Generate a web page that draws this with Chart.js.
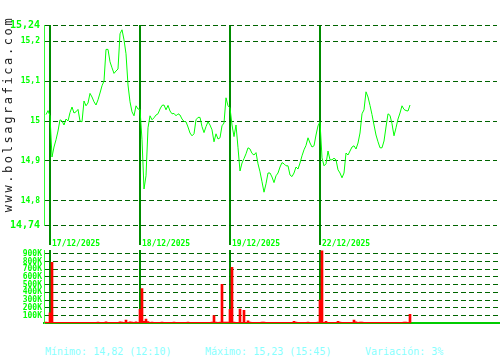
<!DOCTYPE html>
<html>
<head>
<meta charset="utf-8">
<script src="https://cdn.jsdelivr.net/npm/chart.js@4.4.1/dist/chart.umd.min.js"></script>
<style>
  body { margin: 0; background: #fff; }
  #wrap { position: relative; width: 500px; height: 360px; overflow: hidden; }
  canvas { position: absolute; left: 0; }
  #cPrice { top: 0; }
  #cVol { top: 240px; }
  #marca {
    position: absolute; left: -92px; top: 107px; width: 200px; height: 14px;
    line-height: 14px; text-align: center; transform: rotate(-90deg);
    font: 12px 'DejaVu Sans Mono', monospace; letter-spacing: 2.6px;
    color: #222; white-space: nowrap;
  }
  .stat {
    position: absolute; top: 346px; line-height: 14px;
    font: 10px 'DejaVu Sans Mono', monospace; color: #8ff; white-space: nowrap;
  }
</style>
</head>
<body>
<div id="wrap">
  <canvas id="cPrice" width="500" height="250"></canvas>
  <canvas id="cVol" width="500" height="90"></canvas>
  <div id="marca">www.bolsagrafica.com</div>
  <div class="stat" id="s0" style="left:45px"></div>
  <div class="stat" id="s1" style="left:205px"></div>
  <div class="stat" id="s2" style="left:365px"></div>
</div>
<script>
// --- DATI ---
// prezzo, un campione ogni ~10 minuti (4 sessioni)
const PRICE = [
  15.016, 15.026, 15.013, 14.91, 14.935, 14.953, 14.975, 15.003, 15.0, 14.99,
  15.005, 15.0, 15.021, 15.035, 15.02, 15.023, 15.029, 15.0, 14.998, 15.05,
  15.038, 15.045, 15.069, 15.06, 15.048, 15.04, 15.053, 15.07, 15.088, 15.1,
  15.179, 15.179, 15.148, 15.133, 15.119, 15.125, 15.13, 15.218, 15.228, 15.203,
  15.168, 15.09, 15.048, 15.023, 15.013, 15.038, 15.03, 15.029, 14.953, 14.83,
  14.863, 14.983, 15.013, 15.003, 15.008, 15.015, 15.018, 15.03, 15.039, 15.04,
  15.028, 15.039, 15.025, 15.018, 15.019, 15.013, 15.018, 15.015, 15.005, 14.999,
  14.998, 14.985, 14.97, 14.963, 14.968, 15.003, 15.009, 15.009, 14.986, 14.971,
  14.986, 14.998, 14.99, 14.978, 14.948, 14.968, 14.955, 14.958, 14.988, 14.995,
  15.058, 15.038, 15.033, 14.99, 14.961, 14.99, 14.933, 14.875, 14.895, 14.906,
  14.918, 14.933, 14.93, 14.919, 14.915, 14.921, 14.893, 14.873, 14.848, 14.822,
  14.843, 14.87, 14.87, 14.86, 14.846, 14.863, 14.87, 14.885, 14.896, 14.893,
  14.888, 14.888, 14.865, 14.861, 14.87, 14.885, 14.88, 14.895, 14.913, 14.928,
  14.939, 14.958, 14.945, 14.935, 14.938, 14.965, 14.988, 14.998, 14.908, 14.888,
  14.893, 14.925, 14.903, 14.903, 14.907, 14.903, 14.878, 14.87, 14.858, 14.87,
  14.92, 14.915, 14.925, 14.935, 14.938, 14.93, 14.945, 14.97, 15.018, 15.028,
  15.073, 15.06, 15.039, 15.016, 14.99, 14.965, 14.948, 14.933, 14.933, 14.95,
  14.985, 15.018, 15.014, 14.993, 14.963, 14.983, 15.005, 15.02, 15.038, 15.029,
  15.026, 15.025, 15.04,
];

// volume in migliaia, stessi campioni del prezzo
const VOLUME = [
  15, 12, 133, 790, 12, 12, 12, 12, 12, 12,
  12, 12, 12, 12, 12, 12, 12, 12, 12, 12,
  12, 12, 12, 12, 12, 12, 15, 12, 12, 12,
  18, 12, 12, 12, 12, 12, 12, 18, 15, 12,
  40, 12, 18, 15, 12, 18, 12, 180, 450, 25,
  55, 20, 12, 15, 12, 12, 12, 12, 15, 12,
  12, 12, 12, 12, 15, 12, 12, 12, 12, 12,
  12, 15, 12, 12, 12, 12, 12, 12, 12, 12,
  12, 12, 12, 15, 100, 15, 12, 15, 504, 15,
  15, 15, 180, 725, 15, 12, 12, 183, 12, 167,
  12, 30, 15, 12, 12, 12, 12, 12, 15, 15,
  12, 12, 12, 12, 12, 12, 12, 12, 12, 12,
  12, 12, 12, 12, 25, 15, 12, 12, 12, 12,
  12, 15, 12, 12, 12, 12, 15, 300, 940, 12,
  25, 12, 12, 12, 12, 12, 25, 15, 12, 12,
  12, 12, 12, 12, 40, 18, 12, 15, 15, 12,
  12, 12, 12, 12, 12, 12, 12, 12, 12, 12,
  12, 12, 12, 12, 12, 12, 12, 12, 12, 15,
  15, 12, 116,
];

const DAY_IDX = [2, 47, 92, 137]; // inizio di ogni sessione
const DAY_LABELS = ["17/12/2025", "18/12/2025", "19/12/2025", "22/12/2025"];
const PRICE_TICKS = [14.74, 14.8, 14.9, 15, 15.1, 15.2, 15.24];
const VOL_TICKS = [100, 200, 300, 400, 500, 600, 700, 800, 900];
const STATS = ["Mínimo: 14,82 (12:10)", "Máximo: 15,23 (15:45)", "Variación: 3%"];

// --- COLORI ---
const C = {
  line: "#00ff00",
  text: "#00ff00",
  axis: "#33ff33",
  grid: "#006400",
  day: "#008c00",
  base: "#00cc00",
  vol: "#ff0000",
};
const MONO = "'DejaVu Sans Mono', monospace";

STATS.forEach((s, i) => (document.getElementById("s" + i).textContent = s));

// --- GRAFICO PREZZO ---
new Chart(document.getElementById("cPrice"), {
  type: "line",
  data: {
    datasets: [
      {
        data: PRICE.map((p, i) => ({ x: i, y: p })),
        borderColor: C.line,
        borderWidth: 1,
        pointRadius: 0,
        tension: 0,
      },
    ],
  },
  options: {
    responsive: false,
    animation: false,
    events: [],
    layout: { padding: { top: 25, right: 3, left: 0, bottom: 0 } },
    plugins: { legend: { display: false }, tooltip: { enabled: false } },
    scales: {
      x: {
        type: "linear",
        min: -1,
        max: 225.5,
        afterBuildTicks: (s) => { s.ticks = DAY_IDX.map((v) => ({ value: v })); },
        afterFit: (s) => { s.height = 25; },
        grid: { color: C.day, lineWidth: 2, tickLength: 20 },
        border: { display: false },
        ticks: {
          align: "start",
          padding: -6,
          labelOffset: 2,
          maxRotation: 0,
          autoSkip: false,
          color: C.text,
          font: { family: MONO, size: 8, weight: "bold" },
          callback: (v, i) => DAY_LABELS[i],
        },
      },
      y: {
        min: 14.74,
        max: 15.24,
        afterBuildTicks: (s) => { s.ticks = PRICE_TICKS.map((v) => ({ value: v })); },
        afterFit: (s) => { s.width = 44; },
        grid: { color: C.grid, drawTicks: false },
        border: { color: C.axis, width: 1, dash: [5, 3] },
        ticks: {
          padding: 4,
          autoSkip: false,
          color: C.text,
          font: (ctx) => ({
            family: MONO,
            weight: "bold",
            size: ctx.index === 0 || ctx.index === PRICE_TICKS.length - 1 ? 10 : 8,
          }),
          callback: (v) => String(v).replace(".", ","),
        },
      },
    },
  },
});

// --- GRAFICO VOLUME ---
new Chart(document.getElementById("cVol"), {
  type: "bar",
  data: {
    datasets: [
      {
        data: VOLUME.map((v, i) => ({ x: i, y: v })),
        backgroundColor: C.vol,
        borderWidth: 0,
        barThickness: 2,
      },
    ],
  },
  options: {
    responsive: false,
    animation: false,
    events: [],
    layout: { padding: { top: 10, right: 0, left: 0, bottom: 0 } },
    plugins: { legend: { display: false }, tooltip: { enabled: false } },
    scales: {
      x: {
        type: "linear",
        min: -1,
        max: 227,
        offset: false,
        z: 1,
        afterBuildTicks: (s) => { s.ticks = DAY_IDX.map((v) => ({ value: v })); },
        afterFit: (s) => { s.height = 4; },
        grid: { color: C.day, lineWidth: 2, drawTicks: false, offset: false },
        border: { color: C.base, width: 2 },
        ticks: { display: false },
      },
      y: {
        min: 0,
        max: 950,
        afterBuildTicks: (s) => { s.ticks = VOL_TICKS.map((v) => ({ value: v })); },
        afterFit: (s) => { s.width = 44; },
        grid: { color: C.grid, drawTicks: false },
        border: { color: C.axis, width: 1, dash: [5, 3] },
        ticks: {
          padding: 2,
          autoSkip: false,
          color: C.text,
          font: { family: MONO, size: 8, weight: "bold" },
          callback: (v) => v + "K",
        },
      },
    },
  },
});
</script>
</body>
</html>
